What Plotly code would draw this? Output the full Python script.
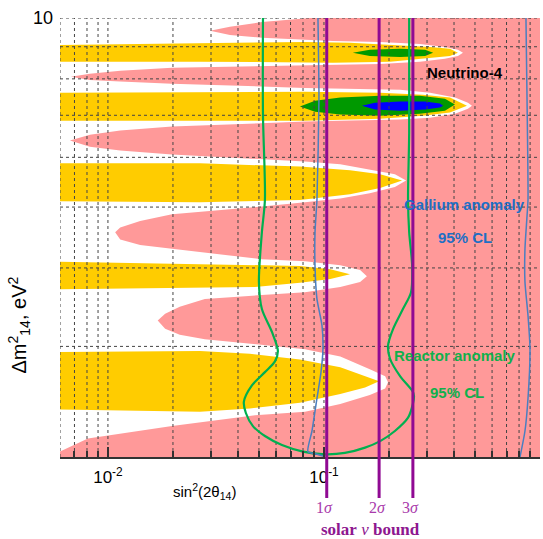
import math
import plotly.graph_objects as go

# ---------------- data (sin^2(2theta14), dm^2_14 [eV^2]) ----------------
# left boundary of the pink (excluded) region, from top to bottom
PINK_EDGE = [
    (1.0, 10), (0.0861, 10), (0.0516, 9.85), (0.0367, 9.68), (0.0297, 9.54),
    (0.0367, 9.40), (0.0516, 9.30), (0.0817, 9.23), (0.110, 9.19), (0.182, 9.16),
    (0.278, 9.09), (0.363, 8.99), (0.417, 8.90), (0.440, 8.80), (0.417, 8.70),
    (0.363, 8.61), (0.278, 8.52), (0.182, 8.45), (0.110, 8.42), (0.0817, 8.40),
    (0.0198, 8.33), (0.0114, 8.24), (0.00825, 8.15), (0.00674, 8.06), (0.00825, 7.97),
    (0.0114, 7.92), (0.0198, 7.86), (0.0817, 7.74), (0.119, 7.72), (0.225, 7.69),
    (0.310, 7.60), (0.404, 7.47), (0.464, 7.33), (0.484, 7.25), (0.464, 7.17),
    (0.404, 7.04), (0.310, 6.94), (0.225, 6.89), (0.119, 6.86), (0.0817, 6.84),
    (0.0198, 6.72), (0.0114, 6.62), (0.00825, 6.52), (0.00667, 6.38), (0.00825, 6.24),
    (0.0114, 6.15), (0.0198, 6.06), (0.0817, 5.91), (0.119, 5.85), (0.163, 5.74),
    (0.213, 5.64), (0.240, 5.51), (0.213, 5.38), (0.163, 5.26), (0.119, 5.16),
    (0.0817, 5.09), (0.0516, 5.01), (0.0198, 4.87), (0.0141, 4.75), (0.0114, 4.64),
    (0.0108, 4.56), (0.0114, 4.44), (0.0141, 4.35), (0.0198, 4.29), (0.0516, 4.13),
    (0.0817, 4.10), (0.119, 4.04), (0.147, 3.97), (0.158, 3.88), (0.147, 3.80),
    (0.119, 3.73), (0.0817, 3.66), (0.0281, 3.57), (0.0215, 3.47), (0.0184, 3.38),
    (0.0170, 3.30), (0.0184, 3.20), (0.0215, 3.13), (0.0281, 3.08), (0.0817, 2.97),
    (0.119, 2.89), (0.163, 2.76), (0.192, 2.69), (0.198, 2.63), (0.192, 2.57),
    (0.163, 2.51), (0.119, 2.43), (0.0817, 2.36), (0.0480, 2.33), (0.0198, 2.24),
    (0.00808, 2.14), (0.006, 2.04), (0.006, 2.0), (1.0, 2.0),
]

# yellow allowed bands (outline: top edge left->tip, bottom edge tip->left)
YELLOW_1 = [(0.006, 9.06), (0.0156, 9.09), (0.0817, 9.16), (0.132, 9.13), (0.202, 9.06),
            (0.310, 8.99), (0.383, 8.93), (0.417, 8.80), (0.383, 8.70), (0.310, 8.64),
            (0.202, 8.52), (0.110, 8.49), (0.0267, 8.52), (0.006, 8.52)]
YELLOW_2 = [(0.006, 7.60), (0.0817, 7.63), (0.182, 7.60), (0.287, 7.55), (0.383, 7.47),
            (0.459, 7.25), (0.383, 7.07), (0.287, 6.99), (0.182, 6.91), (0.0817, 6.86),
            (0.006, 6.86)]
YELLOW_3 = [(0.006, 5.87), (0.0267, 5.87), (0.0774, 5.80), (0.132, 5.72), (0.182, 5.64),
            (0.230, 5.51), (0.182, 5.36), (0.132, 5.24), (0.0774, 5.13), (0.0267, 5.09),
            (0.006, 5.11)]
YELLOW_4 = [(0.006, 4.09), (0.0480, 4.04), (0.0774, 4.03), (0.107, 3.98), (0.132, 3.91),
            (0.107, 3.84), (0.0774, 3.79), (0.0480, 3.73), (0.006, 3.70)]
YELLOW_5 = [(0.006, 2.94), (0.0267, 2.95), (0.0454, 2.92), (0.0774, 2.86), (0.119, 2.78),
            (0.155, 2.69), (0.180, 2.64), (0.155, 2.58), (0.119, 2.52), (0.0774, 2.44),
            (0.0454, 2.39), (0.0267, 2.36), (0.006, 2.38)]

# Neutrino-4 best-fit islands
GREEN_1 = [(0.136, 8.80), (0.163, 8.90), (0.225, 8.93), (0.294, 8.90), (0.320, 8.80),
           (0.294, 8.70), (0.225, 8.67), (0.163, 8.70)]
GREEN_2 = [(0.0774, 7.23), (0.0909, 7.38), (0.119, 7.47), (0.182, 7.52), (0.278, 7.52),
           (0.363, 7.44), (0.404, 7.28), (0.363, 7.12), (0.278, 7.04), (0.182, 6.99),
           (0.119, 7.02), (0.0909, 7.09)]
BLUE_1 = [(0.150, 7.25), (0.172, 7.33), (0.225, 7.36), (0.294, 7.36), (0.344, 7.31),
          (0.356, 7.25), (0.344, 7.20), (0.294, 7.15), (0.225, 7.12), (0.172, 7.15)]

# anomaly contours (95% CL)
REACTOR = [(0.0522, 10), (0.0522, 7.02), (0.0533, 5.14), (0.0516, 4.56), (0.0500, 3.80),
           (0.0516, 3.44), (0.0575, 3.16), (0.0612, 2.95), (0.0593, 2.84), (0.0533, 2.73),
           (0.0464, 2.60), (0.0426, 2.45), (0.0435, 2.35), (0.0469, 2.24), (0.0533, 2.16),
           (0.0639, 2.09), (0.0800, 2.04), (0.101, 2.02), (0.125, 2.03), (0.155, 2.07),
           (0.182, 2.12), (0.213, 2.20), (0.245, 2.31), (0.258, 2.43), (0.261, 2.50),
           (0.258, 2.54), (0.225, 2.69), (0.202, 2.87), (0.198, 3.01), (0.209, 3.20),
           (0.232, 3.44), (0.253, 3.66), (0.256, 4.03), (0.248, 4.56), (0.245, 5.14),
           (0.248, 6.57), (0.248, 10)]
GALLIUM_LEFT = [(0.0938, 10), (0.0948, 7.41), (0.0928, 5.14), (0.0909, 4.56), (0.0909, 4.03),
                (0.0928, 3.57), (0.0979, 3.24), (0.0989, 2.97), (0.0969, 2.73), (0.0928, 2.48),
                (0.0880, 2.20), (0.0843, 2.04), (0.0928, 2.02), (0.100, 2.005)]
GALLIUM_RIGHT = [(0.808, 2.0), (0.852, 2.20), (0.880, 2.48), (0.899, 2.97), (0.880, 3.36),
                 (0.852, 3.80), (0.852, 4.29), (0.871, 4.84), (0.880, 5.14), (0.871, 7.41),
                 (0.861, 10)]

# solar neutrino bounds (1, 2, 3 sigma)
SOLAR_SIGMA = [0.103, 0.180, 0.258]
SOLAR_LABELS = ["1<i>σ</i>", "2<i>σ</i>", "3<i>σ</i>"]

# axes
X_RANGE = (0.006, 1.0)
Y_RANGE = (2.0, 10.0)
X_MAJOR = [0.01, 0.1, 1.0]
X_MAJOR_TEXT = ["10<sup>-2</sup>", "10<sup>-1</sup>", "1"]
X_GRID = [0.007, 0.008, 0.009, 0.01, 0.02, 0.03, 0.04, 0.05, 0.06, 0.07, 0.08, 0.09,
          0.1, 0.2, 0.3, 0.4, 0.5, 0.6, 0.7, 0.8, 0.9]
Y_GRID = [3, 4, 5, 6, 7, 8, 9]

PINK = "#ff9999"
YELLOW = "#ffcc00"
GREEN = "#009900"
BLUE = "#0000ff"
PURPLE = "#900a93"
SANS = "Liberation Sans, Arial, sans-serif"
SERIF = "Liberation Serif, Times New Roman, serif"


def xs(pts):
    return [p[0] for p in pts]


def ys(pts):
    return [p[1] for p in pts]


fig = go.Figure()


def poly(pts, color):
    fig.add_trace(go.Scatter(x=xs(pts), y=ys(pts), mode="lines", fill="toself",
                             fillcolor=color, line=dict(width=0, color=color),
                             hoverinfo="skip", showlegend=False))


poly(PINK_EDGE, PINK)
for band in (YELLOW_1, YELLOW_2, YELLOW_3, YELLOW_4, YELLOW_5):
    poly(band, YELLOW)
poly(GREEN_1, GREEN)
poly(GREEN_2, GREEN)
poly(BLUE_1, BLUE)

# dotted grid drawn over the filled regions
gx, gy = [], []
for v in [X_RANGE[0]] + X_GRID:
    gx += [v, v, None]
    gy += [Y_RANGE[0], Y_RANGE[1], None]
for v in Y_GRID + [Y_RANGE[1]]:
    gx += [X_RANGE[0], X_RANGE[1], None]
    gy += [v, v, None]
fig.add_trace(go.Scatter(x=gx, y=gy, mode="lines",
                         line=dict(color="#444444", width=1, dash="dot"),
                         hoverinfo="skip", showlegend=False))

fig.add_trace(go.Scatter(x=xs(REACTOR), y=ys(REACTOR), mode="lines",
                         line=dict(color="#00b050", width=2.2, shape="spline", smoothing=0.8),
                         hoverinfo="skip", showlegend=False))
fig.add_trace(go.Scatter(x=xs(GALLIUM_LEFT), y=ys(GALLIUM_LEFT), mode="lines",
                         line=dict(color="#4a7fc1", width=1.5, shape="spline", smoothing=0.6),
                         hoverinfo="skip", showlegend=False))
fig.add_trace(go.Scatter(x=xs(GALLIUM_RIGHT), y=ys(GALLIUM_RIGHT), mode="lines",
                         line=dict(color="#4a7fc1", width=1.5, shape="spline", smoothing=0.6),
                         hoverinfo="skip", showlegend=False))

# solar bound lines, extended below the frame
for v in SOLAR_SIGMA:
    fig.add_shape(type="line", xref="x", yref="paper", x0=v, x1=v, y0=-0.0934, y1=1,
                  line=dict(color=PURPLE, width=3), layer="above")


def note(x, y, text, font, xref="paper", **kw):
    return dict(x=x, y=y, xref=xref, yref="paper", text=text, showarrow=False,
                xanchor="center", yanchor="middle", borderpad=0, font=font, **kw)


ann = []
for v, t in zip(SOLAR_SIGMA, SOLAR_LABELS):
    ann.append(note(math.log10(v), -0.1139, t, dict(family=SERIF, size=16, color="#a93aab"),
                    xref="x", xshift=-2))
ann.append(note(0.646, -0.1646, "<b>solar</b> <i>ν</i> <b>bound</b>",
                dict(family=SERIF, size=17, color="#8e1790")))
ann.append(note(0.844, 0.875, "<b>Neutrino-4</b>",
                dict(family=SANS, size=15, color="black")))
ann.append(note(0.842, 0.576, "<b>Gallium anomaly</b>",
                dict(family=SANS, size=15, color="#1f6fc4")))
ann.append(note(0.844, 0.499, "<b>95% CL</b>", dict(family=SANS, size=15, color="#1f6fc4")))
ann.append(note(0.823, 0.232, "<b>Reactor anomaly</b>",
                dict(family=SANS, size=15, color="#10b04c")))
ann.append(note(0.827, 0.148, "<b>95% CL</b>", dict(family=SANS, size=15, color="#10b04c")))
ann.append(note(0.30, -0.078, "sin<sup>2</sup>(2θ<sub>14</sub>)",
                dict(family=SANS, size=15, color="black")))
ann.append(note(-0.085, 0.30, "Δm<sup>2</sup><sub>14</sub>, eV<sup>2</sup>",
                dict(family=SANS, size=20, color="black"), textangle=-90))

fig.update_layout(
    width=543, height=539,
    margin=dict(l=60, r=3, t=18, b=82, autoexpand=False),
    paper_bgcolor="white", plot_bgcolor="white",
    showlegend=False,
    annotations=ann,
    xaxis=dict(type="log", range=[math.log10(X_RANGE[0]), math.log10(X_RANGE[1])],
               automargin=False,
               showgrid=False, zeroline=False,
               tickmode="array", tickvals=X_MAJOR, ticktext=X_MAJOR_TEXT,
               ticks="inside", ticklen=10, tickwidth=1.5, tickcolor="#333333",
               minor=dict(tickmode="array", tickvals=X_GRID, ticks="inside", ticklen=6,
                          tickwidth=1.5, tickcolor="#333333", showgrid=False),
               showline=True, linecolor="#333333", linewidth=1.5,
               tickfont=dict(family=SANS, size=17, color="black"),
               ticklabelstandoff=4, layer="above traces"),
    yaxis=dict(type="log", range=[math.log10(Y_RANGE[0]), math.log10(Y_RANGE[1])],
               automargin=False,
               showgrid=False, zeroline=False, showline=False,
               tickmode="array", tickvals=[10], ticktext=["10"], ticks="",
               tickfont=dict(family=SANS, size=18, color="black"),
               ticklabelstandoff=6),
)

fig.write_html("out.html", config={"displayModeBar": False},
               post_script="document.body.style.margin='0px';")
